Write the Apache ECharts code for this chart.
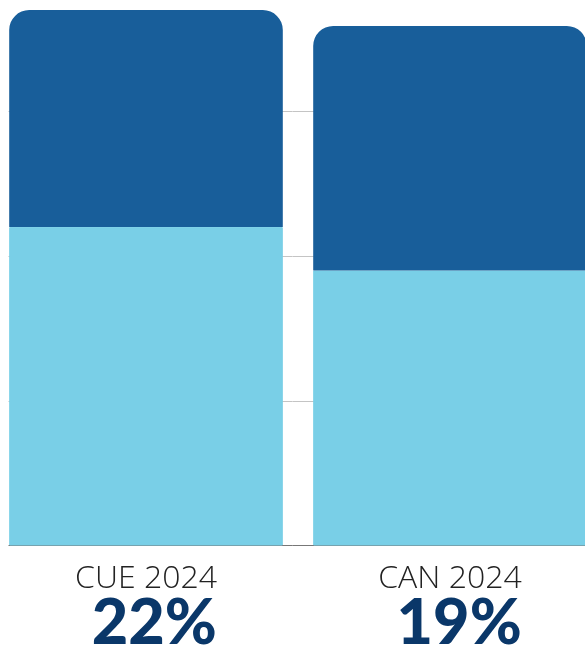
<!DOCTYPE html>
<html>
<head>
<meta charset="utf-8">
<script src="https://cdn.jsdelivr.net/npm/echarts@6/dist/echarts.min.js"></script>
<style>html,body{margin:0;padding:0;background:#fff}#c{width:585px;height:651px}</style>
</head>
<body>
<div id="c"></div>
<script>
const categories = ['CUE 2024', 'CAN 2024'];
const lightValues = [22, 19];
const darkValues = [15, 16.9];
const percentLabels = ['22%', '19%'];

const chart = echarts.init(document.getElementById('c'), null, {renderer: 'canvas'});
chart.setOption({
  animation: false,
  grid: {left: -6, width: 608, top: -33.4, bottom: 105.5, containLabel: false, outerBoundsMode: 'none'},
  graphic: [
    {type: 'rect', left: 0, top: 0, shape: {width: 8.5, height: 548}, style: {fill: '#fff'}, z: 1, silent: true}
  ],
  xAxis: {
    type: 'category',
    data: categories,
    axisTick: {show: false},
    axisLine: {show: true, lineStyle: {color: '#777', width: 1}},
    axisLabel: {
      interval: 0,
      margin: 14,
      align: 'center',
      formatter: function (v, i) { return '{a|' + v + '}\n{b|' + percentLabels[i] + '}'; },
      rich: {
        a: {fontFamily: 'Open Sans', fontWeight: 300, fontSize: 32, color: '#222', lineHeight: 38, align: 'right'},
        b: {fontFamily: 'Lato', fontWeight: 900, fontSize: 63, color: '#0A3769', lineHeight: 52, align: 'right'}
      }
    }
  },
  yAxis: {
    type: 'value', min: 0, max: 40, interval: 10,
    axisLabel: {show: false}, axisLine: {show: false}, axisTick: {show: false},
    splitLine: {show: true, lineStyle: {color: '#c4c4c4', width: 1}}
  },
  series: [
    {type: 'bar', stack: 't', data: lightValues, barWidth: '90%', itemStyle: {color: '#79CFE7', borderColor: '#79CFE7', borderWidth: 1}},
    {type: 'bar', stack: 't', data: darkValues, barWidth: '90%', itemStyle: {color: '#185E9A', borderRadius: [20, 20, 0, 0]}}
  ]
});
</script>
</body>
</html>
